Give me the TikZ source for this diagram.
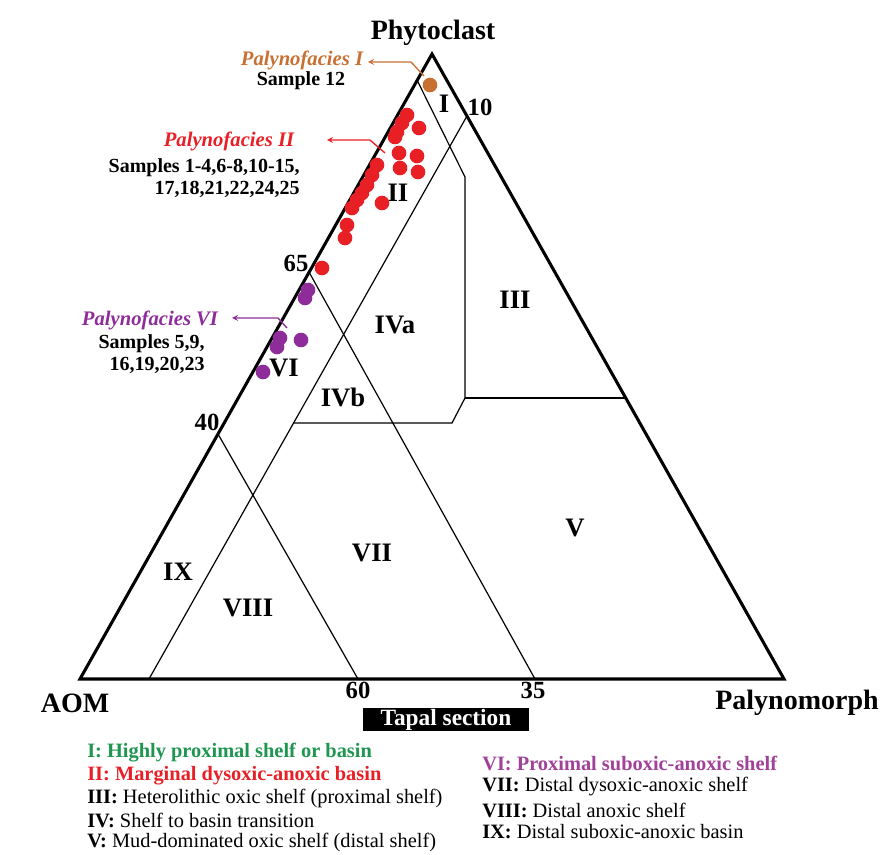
\documentclass[tikz,border=0pt]{standalone}
\usepackage{fontspec}
\setmainfont{Liberation Serif}
\usepackage{tikz}
\definecolor{fI}{RGB}{200,112,50}
\definecolor{fII}{RGB}{232,32,38}
\definecolor{fVI}{RGB}{142,44,154}
\definecolor{lgI}{RGB}{30,150,80}
\definecolor{lgVI}{RGB}{160,66,154}

\begin{document}
\begin{tikzpicture}[x=0.75pt,y=-0.75pt,inner sep=0pt,>=stealth,
  corner/.style={font=\fontsize{21}{25}\selectfont\bfseries},
  reg/.style={font=\fontsize{20}{24}\selectfont\bfseries},
  num/.style={font=\fontsize{18.5}{22}\selectfont\bfseries},
  ann/.style={font=\fontsize{15}{16.5}\selectfont\bfseries},
  leg/.style={font=\fontsize{15.3}{18}\selectfont,anchor=west},
  smp/.style={circle,minimum size=11pt,inner sep=0pt}]
\useasboundingbox (0,0) rectangle (882,855);
% triangle corners
\coordinate (A) at (80,679);
\coordinate (P) at (784,679);
\coordinate (T) at (432,54);
% points on the edges
\coordinate (r10) at (467,116);
\coordinate (b10) at (149,679);
\coordinate (l65) at (309,272);
\coordinate (b35) at (535,679);
\coordinate (l40) at (218,434);
\coordinate (b60) at (358,679);
\coordinate (lI) at (417,80);
\coordinate (kI) at (465,177);
\coordinate (kIII) at (465,398);
\coordinate (rIII) at (626,398);
\coordinate (kIV) at (452,423);
\coordinate (hIV) at (293,423);
% field boundaries
\draw[line width=0.9pt] (r10) -- (b10);
\draw[line width=0.9pt] (l65) -- (b35);
\draw[line width=0.9pt] (l40) -- (b60);
\draw[line width=0.9pt] (lI) -- (kI) -- (kIII) -- (kIV) -- (hIV);
\draw[line width=0.9pt] (kIII) -- (rIII);
\draw[line width=2.3pt,line join=miter] (A) -- (T) -- (P) -- cycle;
% corner and axis labels
\node[corner] (phy) at (433,33) {Phytoclast};
\node[corner] (aom) at (75,703) {AOM};
\node[corner] (pal) at (797,703) {Palynomorph};
\node[num] (n10) at (480,107) {10};
\node[num] (n65) at (296,263) {65};
\node[num] (n40) at (207,422) {40};
\node[num] (n60) at (358,690) {60};
\node[num] (n35) at (533,690) {35};
\node[fill=black,text=white,minimum width=124.5pt,minimum height=17.25pt,
  font=\fontsize{17.5}{20}\selectfont\bfseries] (tapal) at (446,719.5) {Tapal section};
% fields
\node[reg] (fdI) at (444,104) {I};
\node[reg] (fdII) at (398,193) {II};
\node[reg] (fdIII) at (515,300) {III};
\node[reg] (fdIVa) at (395,325) {IVa};
\node[reg] (fdIVb) at (343,397) {IVb};
\node[reg] (fdV) at (575,528) {V};
\node[reg] (fdVI) at (284,368) {VI};
\node[reg] (fdVII) at (372,553) {VII};
\node[reg] (fdVIII) at (248,608) {VIII};
\node[reg] (fdIX) at (178,572) {IX};
% samples
\node[smp,fill=fI] (s12) at (430,85) {};
\node[smp,fill=fII] (r1) at (407,115) {};
\node[smp,fill=fII] (r2) at (402,123) {};
\node[smp,fill=fII] (r3) at (397,132) {};
\node[smp,fill=fII] (r4) at (395,137) {};
\node[smp,fill=fII] (r5) at (419,128) {};
\node[smp,fill=fII] (r6) at (399,153) {};
\node[smp,fill=fII] (r7) at (417,156) {};
\node[smp,fill=fII] (r8) at (400,168) {};
\node[smp,fill=fII] (r9) at (418,172) {};
\node[smp,fill=fII] (r10) at (377,165) {};
\node[smp,fill=fII] (r11) at (372,175) {};
\node[smp,fill=fII] (r12) at (367,185) {};
\node[smp,fill=fII] (r13) at (362,193) {};
\node[smp,fill=fII] (r14) at (357,200) {};
\node[smp,fill=fII] (r15) at (352,208) {};
\node[smp,fill=fII] (r16) at (382,203) {};
\node[smp,fill=fII] (r17) at (347,225) {};
\node[smp,fill=fII] (r18) at (345,238) {};
\node[smp,fill=fII] (r19) at (322,268) {};
\node[smp,fill=fVI] (v1) at (308,290) {};
\node[smp,fill=fVI] (v2) at (305,298) {};
\node[smp,fill=fVI] (v3) at (280,338) {};
\node[smp,fill=fVI] (v4) at (277,347) {};
\node[smp,fill=fVI] (v5) at (301,340) {};
\node[smp,fill=fVI] (v6) at (263,372) {};
% call-outs
\node[ann,font=\fontsize{15.5}{17}\selectfont\bfseries\itshape,text=fI] (pfI) at (302,60) {Palynofacies I};
\node[ann] (txI) at (301,81) {Sample 12};
\coordinate (aI) at (424,76);
\coordinate (kaI) at (411,62);
\coordinate (eI) at (368,62);
\draw[fI,line width=1pt,->] (aI) -- (kaI) -- (eI);
\node[ann,font=\fontsize{15.5}{17}\selectfont\bfseries\itshape,text=fII] (pfII) at (229,141) {Palynofacies II};
\node[ann,anchor=east,align=right] (txII) at (300,178) {Samples 1-4,6-8,10-15,\\17,18,21,22,24,25};
\coordinate (aII) at (385,153);
\coordinate (kaII) at (370,140);
\coordinate (eII) at (327,140);
\draw[fII,line width=1pt,->] (aII) -- (kaII) -- (eII);
\node[ann,font=\fontsize{15.5}{17}\selectfont\bfseries\itshape,text=fVI] (pfVI) at (150,320) {Palynofacies VI};
\node[ann,anchor=east,align=right] (txVI) at (205,354) {Samples 5,9,\\16,19,20,23};
\coordinate (aVI) at (287,328);
\coordinate (kaVI) at (278,318);
\coordinate (eVI) at (232,318);
\draw[fVI,line width=1pt,->] (aVI) -- (kaVI) -- (eVI);
% legend
\node[leg,text=lgI] (lg1) at (87,753) {\bfseries I: Highly proximal shelf or basin};
\node[leg,text=fII] (lg2) at (87,776) {\bfseries II: Marginal dysoxic-anoxic basin};
\node[leg] (lg3) at (87,798) {\textbf{III:} Heterolithic oxic shelf (proximal shelf)};
\node[leg] (lg4) at (87,820) {\textbf{IV:} Shelf to basin transition};
\node[leg] (lg5) at (87,842) {\textbf{V:} Mud-dominated oxic shelf (distal shelf)};
\node[leg,text=lgVI] (lg6) at (482,763) {\bfseries VI: Proximal suboxic-anoxic shelf};
\node[leg] (lg7) at (482,787) {\textbf{VII:} Distal dysoxic-anoxic shelf};
\node[leg] (lg8) at (482,810) {\textbf{VIII:} Distal anoxic shelf};
\node[leg] (lg9) at (482,832) {\textbf{IX:} Distal suboxic-anoxic basin};
\end{tikzpicture}
\end{document}
